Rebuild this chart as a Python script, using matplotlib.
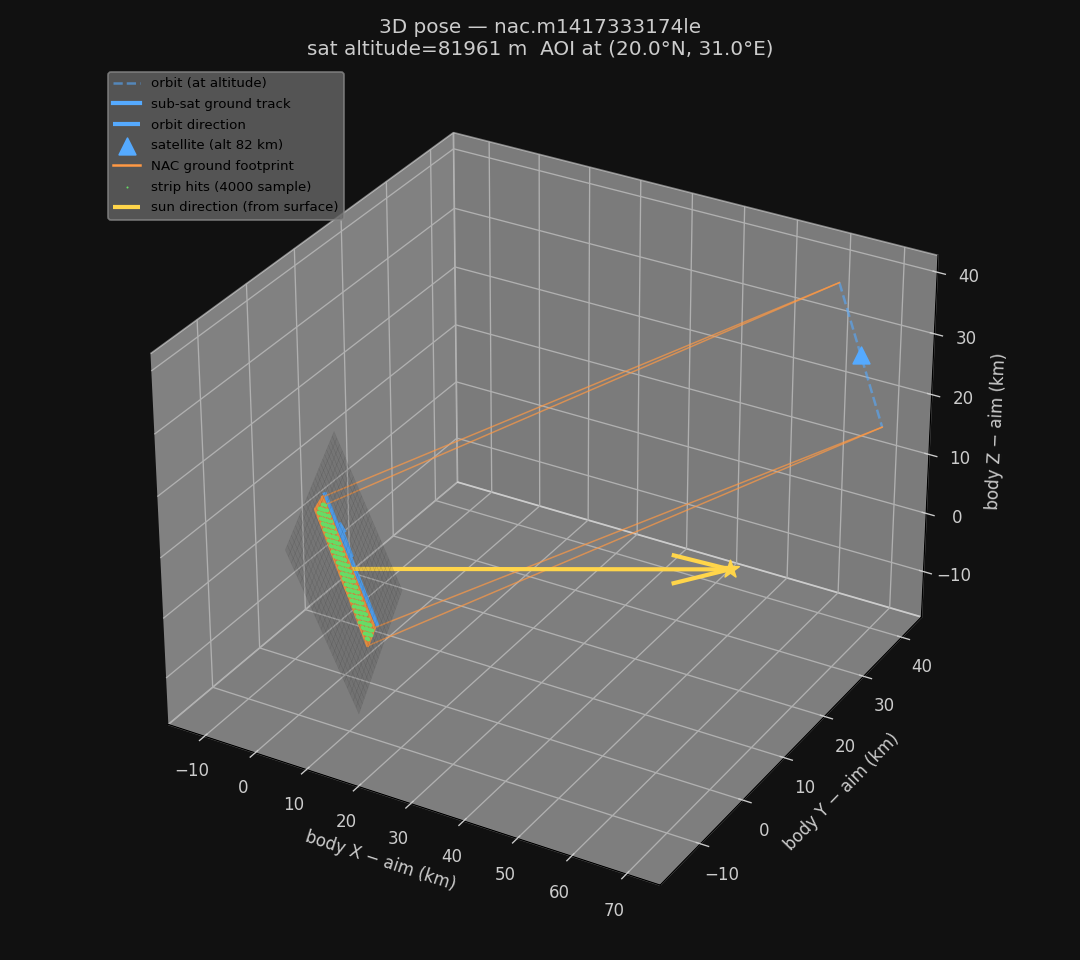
import matplotlib
matplotlib.use("Agg")
import matplotlib.pyplot as plt
import numpy as np
from mpl_toolkits.mplot3d.art3d import Poly3DCollection

BG_COLOR = "#111111"
TEXT_COLOR = "#cccccc"
ORBIT_COLOR = "#55aaff"
FOOT_COLOR = "#ff9944"
HIT_COLOR = "#66dd66"
SUN_COLOR = "#ffd54a"

X_TICKS = [-10, 0, 10, 20, 30, 40, 50, 60, 70]
Y_TICKS = [-10, 0, 10, 20, 30, 40]
Z_TICKS = [-10, 0, 10, 20, 30, 40]
X_LIM = (-17.2, 76.1)
Y_LIM = (-19.2, 45.3)
Z_LIM = (-17.9, 42.7)

AIM = [-0.3, 0.91, -0.5]
SAT = [72.5, 31.23, 33.9]
ORBIT_X = [67.6, 77.4]
ORBIT_Y = [32.02, 30.45]
ORBIT_Z = [43.9, 23.9]

# footprint corners: top, left, bottom, right
FOOT_X = [-5.365, -3.905, 4.765, 3.305]
FOOT_Y = [1.97, -1.23, -0.16, 3.04]
FOOT_Z = [9.6, 9.955, -11.535, -10.955]

TRACK_X = [-5.4, 3.3]
TRACK_Y = [2.5, 3.6]
TRACK_Z = [9.7, -10.8]
ARROW_BASE = [-0.95, 3.1, -0.12]
ARROW_VEC = [-2.17, -0.27, 5.37]

SUN_VEC = [56.2, 21.5, 0.53]

# ground mesh corners
MESH_X = [[-11.05, 0.98], [-2.12, 10.29]]
MESH_Y = [[10.77, -12.71], [15.21, -8.27]]
MESH_Z = [[13.7, 11.8], [-13.97, -16.08]]
MESH_STEPS = [0, 0.04, 0.08, 0.12, 0.16, 0.2, 0.24, 0.28, 0.32, 0.36, 0.4, 0.44, 0.48,
              0.52, 0.56, 0.6, 0.64, 0.68, 0.72, 0.76, 0.8, 0.84, 0.88, 0.92, 0.96, 1]
ROW_STEPS = [-0.1, -0.06, -0.02, 0.02, 0.06, 0.1, 0.14, 0.18, 0.22, 0.26, 0.3, 0.34, 0.38, 0.42,
             0.46, 0.5, 0.54, 0.58, 0.62, 0.66, 0.7, 0.74, 0.78, 0.82, 0.86, 0.9, 0.94, 0.98]
DOT_STEPS = [0.1, 0.18, 0.26, 0.34, 0.42, 0.5, 0.58, 0.66, 0.74, 0.82, 0.9]
ROW_SKEW = 0.12


fig = plt.figure(figsize=(9, 8), dpi=120, facecolor=BG_COLOR)
ax = fig.add_subplot(111, projection="3d", facecolor=BG_COLOR, computed_zorder=False)
ax.set_position([0.029, 0.0205, 0.942, 0.912])

ax.plot(ORBIT_X, ORBIT_Y, ORBIT_Z, "--", color=ORBIT_COLOR, alpha=0.6, lw=1.5, zorder=2, label="orbit (at altitude)")
ax.plot(TRACK_X, TRACK_Y, TRACK_Z, color=ORBIT_COLOR, lw=2.5, zorder=2, label="sub-sat ground track")
ax.quiver(*ARROW_BASE, *ARROW_VEC, color=ORBIT_COLOR, lw=2.5, arrow_length_ratio=0.3, zorder=2, label="orbit direction")
ax.scatter([SAT[0]], [SAT[1]], [SAT[2]], marker="^", s=100, color=ORBIT_COLOR, depthshade=False, zorder=5, label="satellite (alt 82 km)")

ax.add_collection3d(
    Poly3DCollection([list(zip(FOOT_X, FOOT_Y, FOOT_Z))], facecolor=FOOT_COLOR, edgecolor=FOOT_COLOR, alpha=0.9, zorder=3)
)
closed = FOOT_X + FOOT_X[:1], FOOT_Y + FOOT_Y[:1], FOOT_Z + FOOT_Z[:1]
ax.plot(*closed, color=FOOT_COLOR, lw=1.5, zorder=3, label="NAC ground footprint")

for corner, end in ((0, 0), (1, 0), (2, 1), (3, 1)):
    ax.plot([FOOT_X[corner], ORBIT_X[end]], [FOOT_Y[corner], ORBIT_Y[end]], [FOOT_Z[corner], ORBIT_Z[end]],
            color=FOOT_COLOR, lw=0.9, alpha=0.7, zorder=2)

# strip hits, slanted rows across the footprint
hx, hy, hz = [], [], []
for r in ROW_STEPS:
    for d in DOT_STEPS:
        s = r + ROW_SKEW * d
        if s < 0.02 or s > 0.98:
            continue
        for c, out in zip((FOOT_X, FOOT_Y, FOOT_Z), (hx, hy, hz)):
            out.append(c[1] + (c[0] - c[1]) * d + (c[2] - c[1]) * s)
ax.scatter(hx, hy, hz, s=5, color=HIT_COLOR, depthshade=False, linewidths=0, zorder=4)
ax.scatter([], [], [], s=1.5, color=HIT_COLOR, depthshade=False, linewidths=0, label="strip hits (4000 sample)")

ax.quiver(*AIM, *SUN_VEC, color=SUN_COLOR, lw=2.5, arrow_length_ratio=0.156, zorder=2, label="sun direction (from surface)")
ax.scatter([AIM[0] + SUN_VEC[0]], [AIM[1] + SUN_VEC[1]], [AIM[2] + SUN_VEC[2]],
           marker="*", s=120, color=SUN_COLOR, depthshade=False, zorder=5)

# ground mesh goes over the lines, that dims the start of the sun ray
u, v = np.meshgrid(MESH_STEPS, MESH_STEPS)
mx, my, mz = [
    np.array(c)[0, 0] * (1 - u) * (1 - v)
    + np.array(c)[0, 1] * u * (1 - v)
    + np.array(c)[1, 0] * (1 - u) * v
    + np.array(c)[1, 1] * u * v
    for c in (MESH_X, MESH_Y, MESH_Z)
]
ax.plot_surface(mx, my, mz, color="#222222", alpha=0.12, edgecolor="#222222", linewidth=0.2,
                shade=False, rstride=1, cstride=1, zorder=3.5)

ax.set_xlim(*X_LIM)
ax.set_ylim(*Y_LIM)
ax.set_zlim(*Z_LIM)
ax.view_init(elev=30, azim=-60)
ax.set_xticks(X_TICKS)
ax.set_yticks(Y_TICKS)
ax.set_zticks(Z_TICKS)
ax.tick_params(colors=TEXT_COLOR, labelsize=10)
ax.set_xlabel("body X − aim (km)", color=TEXT_COLOR, fontsize=10)
ax.set_ylabel("body Y − aim (km)", color=TEXT_COLOR, fontsize=10)
ax.set_zlabel("body Z − aim (km)", color=TEXT_COLOR, fontsize=10)
fig.text(0.5, 0.96, "3D pose — nac.m1417333174le\nsat altitude=81961 m  AOI at (20.0°N, 31.0°E)",
         color=TEXT_COLOR, fontsize=12, ha="center", va="center")
ax.legend(loc="upper left", bbox_to_anchor=(0.1, 0.925), bbox_transform=fig.transFigure, fontsize=8,
          facecolor="#666666", edgecolor="#888888", framealpha=0.8, borderaxespad=0, labelspacing=0.575)

fig.savefig("out.png", dpi=120, facecolor=BG_COLOR)
